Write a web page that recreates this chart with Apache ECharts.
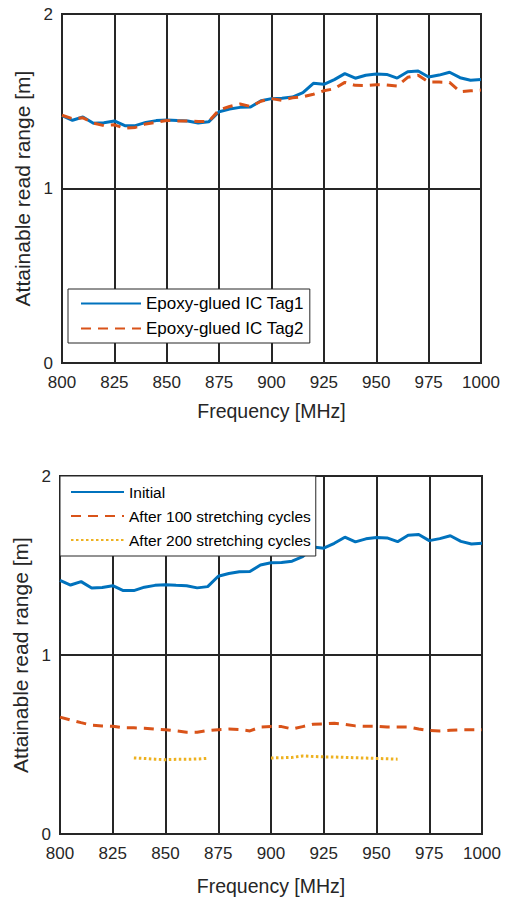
<!DOCTYPE html>
<html>
<head>
<meta charset="utf-8">
<style>
  html, body { margin: 0; padding: 0; background: #fff; }
  #chart { width: 514px; height: 897px; }
</style>
<script src="https://cdn.jsdelivr.net/npm/echarts@6/dist/echarts.min.js"></script>
</head>
<body>
<div id="chart"></div>
<script>
var freq = [800, 805, 810, 815, 820, 825, 830, 835, 840, 845, 850, 855, 860, 865, 870,
  875, 880, 885, 890, 895, 900, 905, 910, 915, 920, 925, 930, 935, 940, 945, 950,
  955, 960, 965, 970, 975, 980, 985, 990, 995, 1000];

var tag1 = [1.417, 1.391, 1.410, 1.374, 1.377, 1.387, 1.360, 1.360, 1.379, 1.389, 1.393,
  1.389, 1.387, 1.375, 1.382, 1.440, 1.455, 1.465, 1.467, 1.503, 1.515, 1.517, 1.524,
  1.549, 1.603, 1.597, 1.624, 1.658, 1.632, 1.649, 1.656, 1.654, 1.633, 1.669, 1.673,
  1.639, 1.650, 1.666, 1.635, 1.620, 1.624];

var tag2 = [1.420, 1.400, 1.405, 1.375, 1.360, 1.365, 1.345, 1.350, 1.370, 1.380, 1.390,
  1.387, 1.387, 1.384, 1.384, 1.450, 1.470, 1.484, 1.470, 1.500, 1.515, 1.505, 1.520,
  1.526, 1.540, 1.560, 1.572, 1.608, 1.591, 1.590, 1.595, 1.593, 1.587, 1.637, 1.649,
  1.610, 1.610, 1.608, 1.555, 1.560, 1.564];

// bottom panel: "Initial" is the same measurement as Tag1
var initial = tag1;

var after100 = [0.653, 0.637, 0.622, 0.608, 0.604, 0.602, 0.593, 0.593, 0.591, 0.586, 0.582,
  0.576, 0.569, 0.569, 0.578, 0.583, 0.586, 0.583, 0.576, 0.598, 0.600, 0.600, 0.587,
  0.600, 0.613, 0.615, 0.619, 0.613, 0.604, 0.602, 0.602, 0.598, 0.598, 0.598, 0.587,
  0.578, 0.576, 0.580, 0.582, 0.582, 0.582];

var after200 = [null, null, null, null, null, null, null, 0.425, 0.422, 0.418, 0.415,
  0.417, 0.417, 0.419, 0.423, null, null, null, null, null, 0.425, 0.426, 0.428,
  0.436, 0.433, 0.431, 0.430, 0.428, 0.426, 0.424, 0.422, 0.420, 0.418, null, null,
  null, null, null, null, null, null];

var xTicks = [800, 825, 850, 875, 900, 925, 950, 975, 1000];
var yTicks = [0, 1, 2];

var ink = '#262626';
var font = "'Liberation Sans', Arial, sans-serif";
var blue = '#0072BD', orange = '#D95319', yellow = '#EDB120';

function pairs(vals) {
  return freq.map(function (f, i) { return [f, vals[i]]; });
}

function xAxis(gi, gap) {
  return {
    type: 'value', gridIndex: gi, min: xTicks[0], max: xTicks[xTicks.length - 1], interval: 25,
    name: 'Frequency [MHz]', nameLocation: 'middle', nameGap: gap,
    nameTextStyle: { color: ink, fontSize: 19.5, fontFamily: font },
    axisLine: { show: true, lineStyle: { color: ink, width: 2 } },
    axisTick: { show: false },
    axisLabel: { color: ink, fontSize: 17, fontFamily: font, margin: 11,
      formatter: function (v) { return String(v); } },
    splitLine: { show: true, lineStyle: { color: ink, width: 2 } }
  };
}

function yAxis(gi) {
  return {
    type: 'value', gridIndex: gi, min: yTicks[0], max: yTicks[yTicks.length - 1], interval: 1,
    name: 'Attainable read range [m]', nameLocation: 'middle', nameGap: 24,
    nameTextStyle: { color: ink, fontSize: 21, fontFamily: font },
    axisLine: { show: true, lineStyle: { color: ink, width: 2 } },
    axisTick: { show: false },
    axisLabel: { color: ink, fontSize: 17, fontFamily: font, margin: 9 },
    splitLine: { show: true, lineStyle: { color: ink, width: 2 } }
  };
}

function line(name, vals, gi, color, type, width) {
  return {
    name: name, type: 'line', xAxisIndex: gi, yAxisIndex: gi,
    data: pairs(vals), symbol: 'none', connectNulls: false,
    lineStyle: { color: color, width: width, type: type },
    itemStyle: { color: color }
  };
}

var chart = echarts.init(document.getElementById('chart'), null, { renderer: 'svg' });
chart.setOption({
  animation: false,
  backgroundColor: '#fff',
  grid: [
    { left: 62, top: 14, width: 419, height: 349, show: true, borderColor: ink, borderWidth: 2 },
    { left: 60, top: 476, width: 422, height: 358, show: true, borderColor: ink, borderWidth: 2 }
  ],
  xAxis: [xAxis(0, 38), xAxis(1, 42)],
  yAxis: [yAxis(0), yAxis(1)],
  legend: [
    {
      data: ['Epoxy-glued IC Tag1', 'Epoxy-glued IC Tag2'],
      orient: 'vertical', left: 68, top: 289,
      backgroundColor: '#fff', borderColor: ink, borderWidth: 1,
      padding: [6, 6, 6, 12], itemGap: 8, itemWidth: 60, itemHeight: 14,
      itemStyle: { opacity: 0 },
      textStyle: { color: '#000', fontSize: 17, fontFamily: font }
    },
    {
      data: ['Initial', 'After 100 stretching cycles', 'After 200 stretching cycles'],
      orient: 'vertical', left: 60, top: 476,
      backgroundColor: '#fff', borderColor: ink, borderWidth: 1,
      padding: [8, 5, 8, 10], itemGap: 8, itemWidth: 53, itemHeight: 14,
      itemStyle: { opacity: 0 },
      textStyle: { color: '#000', fontSize: 15.5, fontFamily: font }
    }
  ],
  series: [
    line('Epoxy-glued IC Tag1', tag1, 0, blue, 'solid', 3),
    line('Epoxy-glued IC Tag2', tag2, 0, orange, [10, 7], 3),
    line('Initial', initial, 1, blue, 'solid', 3),
    line('After 100 stretching cycles', after100, 1, orange, [10, 7], 3),
    line('After 200 stretching cycles', after200, 1, yellow, [2.5, 2.5], 3)
  ]
});
window.addEventListener('resize', function () { chart.resize(); });
</script>
</body>
</html>
